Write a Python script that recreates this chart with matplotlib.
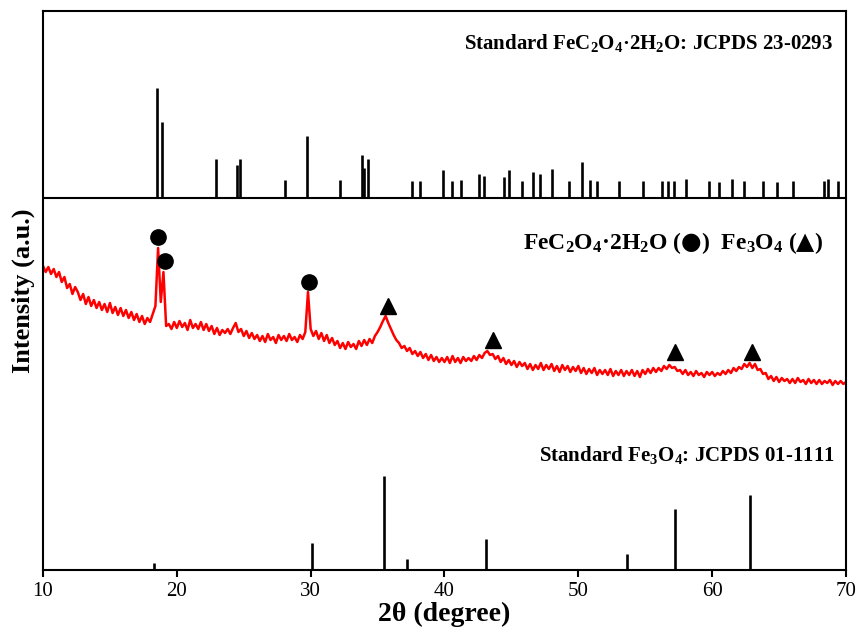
import numpy as np
import matplotlib
matplotlib.use("Agg")
import matplotlib.pyplot as plt

plt.rcParams['font.family'] = ['Liberation Serif', 'DejaVu Serif']
plt.rcParams['mathtext.fontset'] = 'custom'
plt.rcParams['mathtext.rm'] = 'Liberation Serif:bold'
plt.rcParams['mathtext.it'] = 'Liberation Serif:bold:italic'
plt.rcParams['mathtext.bf'] = 'Liberation Serif:bold'
plt.rcParams['mathtext.sf'] = 'DejaVu Sans'
plt.rcParams['mathtext.fallback'] = 'stix'

# ---- standard FeC2O4·2H2O (JCPDS 23-0293): 2theta, relative intensity
fec_pos = [18.5, 18.9, 22.9, 24.5, 24.75, 28.1, 29.75, 32.2, 33.8, 34.0, 34.3,
           37.55, 38.2, 39.9, 40.56, 41.2, 42.58, 42.98, 44.47, 44.85, 45.8,
           46.6, 47.14, 48.06, 49.33, 50.25, 50.87, 51.37, 53.04, 54.86, 56.25,
           56.68, 57.13, 58.02, 59.76, 60.5, 61.48, 62.35, 63.82, 64.87, 66.07,
           68.36, 68.66, 69.43]
fec_int = [100, 69, 35, 30, 35, 16, 56, 16, 39, 27, 35,
           15, 15, 25, 15, 16, 21, 20, 19, 25, 15,
           23, 21, 26, 15, 32, 16, 15, 15, 15, 15,
           15, 15, 17, 15, 14, 17, 15, 15, 14, 15,
           15, 17, 15]

# ---- standard Fe3O4 (JCPDS 01-1111)
fe3o4_pos = [18.32, 30.1, 35.48, 37.17, 43.1, 53.6, 57.22, 62.8]
fe3o4_int = [7, 29, 100, 12, 33, 17, 65, 80]

# ---- measured pattern (2theta from 10 to 70, step 0.2), intensity a.u.
two_theta_start, two_theta_stop = 10.0, 70.0
pattern = [
    304, 298, 303, 296, 301, 293, 298, 288, 293, 282,   # 10.0-11.8
    286, 276, 283, 278, 270, 276, 266, 273, 264, 270,   # 12.0-13.8
    262, 268, 260, 266, 258, 267, 257, 263, 255, 262,   # 14.0-15.8
    254, 260, 252, 258, 250, 256, 248, 254, 246, 252,   # 16.0-17.8
    248, 256, 264, 322, 268, 298, 244, 246, 241, 248,   # 18.0-19.8
    242, 249, 243, 247, 240, 250, 242, 246, 241, 248,   # 20.0-21.8
    240, 246, 239, 244, 236, 242, 235, 240, 237, 241,   # 22.0-23.8
    236, 242, 247, 238, 241, 234, 239, 232, 237, 231,   # 24.0-25.8
    235, 229, 234, 228, 236, 230, 233, 227, 235, 230,   # 26.0-27.8
    234, 229, 236, 230, 233, 228, 235, 231, 238, 278,   # 28.0-29.8
    241, 234, 239, 231, 237, 229, 235, 227, 232, 225,   # 30.0-31.8
    229, 222, 227, 221, 228, 223, 226, 221, 229, 224,   # 32.0-33.8
    230, 225, 231, 227, 234, 238, 243, 249, 254, 247,   # 34.0-35.8
    241, 235, 230, 227, 222, 224, 219, 222, 216, 219,   # 36.0-37.8
    214, 218, 212, 216, 210, 215, 209, 213, 208, 212,   # 38.0-39.8
    208, 213, 207, 214, 208, 212, 207, 213, 209, 212,   # 40.0-41.8
    209, 214, 210, 215, 212, 217, 219, 215, 216, 211,   # 42.0-43.8
    214, 208, 212, 206, 210, 205, 209, 203, 208, 204,   # 44.0-45.8
    207, 201, 206, 200, 205, 201, 207, 200, 205, 201,   # 46.0-47.8
    206, 199, 204, 198, 205, 200, 204, 198, 203, 199,   # 48.0-49.8
    204, 197, 202, 196, 201, 197, 202, 195, 200, 196,   # 50.0-51.8
    200, 195, 201, 194, 199, 195, 200, 194, 199, 195,   # 52.0-53.8
    200, 194, 199, 193, 200, 196, 201, 197, 202, 198,   # 54.0-55.8
    202, 199, 204, 201, 205, 202, 203, 199, 200, 196,   # 56.0-57.8
    200, 195, 198, 194, 199, 195, 197, 193, 198, 195,   # 58.0-59.8
    198, 194, 197, 195, 199, 196, 200, 197, 202, 199,   # 60.0-61.8
    203, 201, 206, 203, 207, 202, 206, 200, 201, 196,   # 62.0-63.8
    197, 191, 194, 189, 193, 188, 192, 189, 191, 187,   # 64.0-65.8
    191, 187, 192, 188, 190, 186, 191, 187, 190, 186,   # 66.0-67.8
    190, 186, 189, 187, 190, 185, 189, 186, 189, 186,   # 68.0-69.8
    188,                                                 # 70.0
]
two_theta = np.linspace(two_theta_start, two_theta_stop, len(pattern))

# ---- phase markers on the pattern
circle_x = [18.62, 19.12, 29.85]
circle_y = [333, 309, 288]
tri_x = [35.75, 43.6, 57.22, 62.96]
tri_y = [264, 230, 218, 218]

x_ticks = [10, 20, 30, 40, 50, 60, 70]

# ---- figure
fig = plt.figure(figsize=(8.61, 6.37), dpi=100)
ax = fig.add_axes([43/861, 1-570/637, (846-43)/861, (570-11)/637])

top_base = 372.5
top_scale = 1.10
bot_scale = 0.94

ax.vlines(fec_pos, top_base, top_base + top_scale*np.array(fec_int),
          color='black', lw=1.9)
ax.axhline(top_base, color='black', lw=1.5)
ax.vlines(fe3o4_pos, 0, bot_scale*np.array(fe3o4_int), color='black', lw=1.9)

ax.plot(two_theta, pattern, color='#ff0000', lw=1.8)
ax.plot(circle_x, circle_y, 'o', color='black', ms=11)
ax.plot(tri_x, tri_y, '^', color='black', ms=11)

ax.set_xlim(10, 70)
ax.set_ylim(0, 559)
ax.set_xticks(x_ticks)
ax.set_yticks([])
ax.tick_params(axis='x', direction='out', length=5, width=1.5, labelsize=15,
               pad=4, top=False)
for s in ax.spines.values():
    s.set_linewidth(1.5)

ax.set_xlabel('2θ (degree)', fontsize=20, fontweight='bold', labelpad=0)
ax.set_ylabel('Intensity (a.u.)', fontsize=19, fontweight='bold', labelpad=6)

ax.text(0.984, 0.943, r'Standard FeC$_2$O$_4$·2H$_2$O: JCPDS 23-0293',
        transform=ax.transAxes, ha='right', va='center', fontsize=15,
        fontweight='bold')
ax.text(0.971, 0.585,
        r'FeC$_2$O$_4$·2H$_2$O ($\mathsf{●}$)  Fe$_3$O$_4$ ($\mathsf{▲}$)',
        transform=ax.transAxes, ha='right', va='center', fontsize=17,
        fontweight='bold')
ax.text(0.986, 0.206, r'Standard Fe$_3$O$_4$: JCPDS 01-1111',
        transform=ax.transAxes, ha='right', va='center', fontsize=15,
        fontweight='bold')

fig.savefig('out.png', dpi=100)
